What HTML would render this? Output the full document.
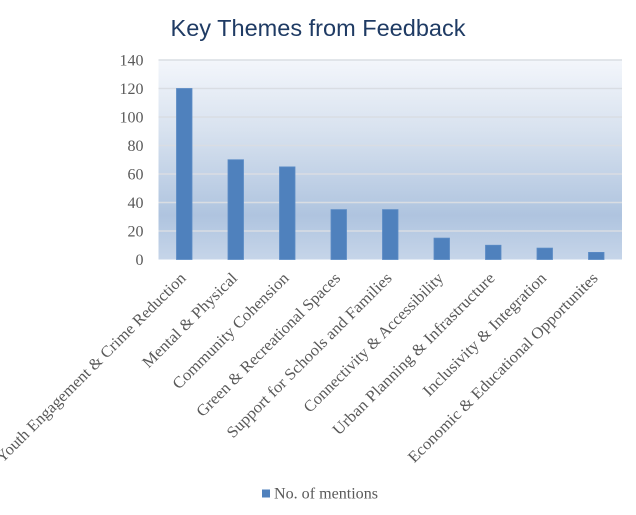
<!DOCTYPE html>
<html>
<head>
<meta charset="utf-8">
<style>
  html, body { margin: 0; padding: 0; background: #ffffff; }
  svg { display: block; }
</style>
</head>
<body>
<svg width="636" height="515" viewBox="0 0 636 515" xmlns="http://www.w3.org/2000/svg">
  <defs>
    <linearGradient id="bg" x1="0" y1="0" x2="0" y2="1">
      <stop offset="0" stop-color="#F3F6FB"/>
      <stop offset="0.35" stop-color="#D8E2EF"/>
      <stop offset="0.78" stop-color="#AFC4DF"/>
      <stop offset="1" stop-color="#C6D5E9"/>
    </linearGradient>
  </defs>
  <rect x="0" y="0" width="636" height="515" fill="#ffffff"/>

  <!-- Title -->
  <text x="170.5" y="36" font-family="'Liberation Sans', sans-serif" font-size="23.5" fill="#1F3B64" textLength="295" lengthAdjust="spacingAndGlyphs">Key Themes from Feedback</text>

  <!-- Plot area -->
  <rect x="158.5" y="60" width="463.5" height="199.5" fill="url(#bg)"/>

  <!-- Gridlines -->
  <g stroke="#D9DDE3" stroke-width="1.5">
    <line x1="158.5" y1="60" x2="622" y2="60"/>
    <line x1="158.5" y1="88.5" x2="622" y2="88.5"/>
    <line x1="158.5" y1="117" x2="622" y2="117"/>
    <line x1="158.5" y1="145.5" x2="622" y2="145.5"/>
    <line x1="158.5" y1="174" x2="622" y2="174"/>
    <line x1="158.5" y1="202.5" x2="622" y2="202.5"/>
    <line x1="158.5" y1="231" x2="622" y2="231"/>
  </g>

  <!-- Y tick labels -->
  <g font-family="'Liberation Serif', serif" font-size="16" fill="#595959" text-anchor="end">
    <text x="143.5" y="65.5">140</text>
    <text x="143.5" y="94">120</text>
    <text x="143.5" y="122.5">100</text>
    <text x="143.5" y="151">80</text>
    <text x="143.5" y="179.5">60</text>
    <text x="143.5" y="208">40</text>
    <text x="143.5" y="236.5">20</text>
    <text x="143.5" y="265">0</text>
  </g>

  <!-- Bars -->
  <g fill="#4F81BD" stroke="#5B8BC5" stroke-width="0.8">
    <rect x="176.5" y="88.5" width="15.5" height="171"/>
    <rect x="228" y="159.75" width="15.5" height="99.75"/>
    <rect x="279.5" y="166.9" width="15.5" height="92.6"/>
    <rect x="331" y="209.6" width="15.5" height="49.9"/>
    <rect x="382.5" y="209.6" width="15.5" height="49.9"/>
    <rect x="434" y="238.1" width="15.5" height="21.4"/>
    <rect x="485.5" y="245.25" width="15.5" height="14.25"/>
    <rect x="537" y="248.1" width="15.5" height="11.4"/>
    <rect x="588.5" y="252.4" width="15.5" height="7.1"/>
  </g>

  <!-- Category labels -->
  <g font-family="'Liberation Serif', serif" font-size="16" fill="#595959" text-anchor="end">
    <text transform="translate(186.75,279) rotate(-45)" textLength="261" lengthAdjust="spacingAndGlyphs">Youth Engagement &amp; Crime Reduction</text>
    <text transform="translate(238.25,279) rotate(-45)" textLength="127" lengthAdjust="spacingAndGlyphs">Mental &amp; Physical</text>
    <text transform="translate(289.75,279) rotate(-45)" textLength="157" lengthAdjust="spacingAndGlyphs">Community Cohension</text>
    <text transform="translate(341.25,279) rotate(-45)" textLength="196" lengthAdjust="spacingAndGlyphs">Green &amp; Recreational Spaces</text>
    <text transform="translate(392.75,279) rotate(-45)" textLength="226" lengthAdjust="spacingAndGlyphs">Support for Schools and Families</text>
    <text transform="translate(444.25,279) rotate(-45)" textLength="190" lengthAdjust="spacingAndGlyphs">Connectivity &amp; Accessibility</text>
    <text transform="translate(495.75,279) rotate(-45)" textLength="222" lengthAdjust="spacingAndGlyphs">Urban Planning &amp; Infrastructure</text>
    <text transform="translate(547.25,279) rotate(-45)" textLength="167" lengthAdjust="spacingAndGlyphs">Inclusivity &amp; Integration</text>
    <text transform="translate(598.75,279) rotate(-45)" textLength="261" lengthAdjust="spacingAndGlyphs">Economic &amp; Educational Opportunites</text>
  </g>

  <!-- Legend -->
  <rect x="262" y="489.5" width="8" height="8" fill="#4F81BD"/>
  <text x="274" y="498.5" font-family="'Liberation Serif', serif" font-size="16" fill="#595959" textLength="104" lengthAdjust="spacingAndGlyphs">No. of mentions</text>
</svg>
</body>
</html>
